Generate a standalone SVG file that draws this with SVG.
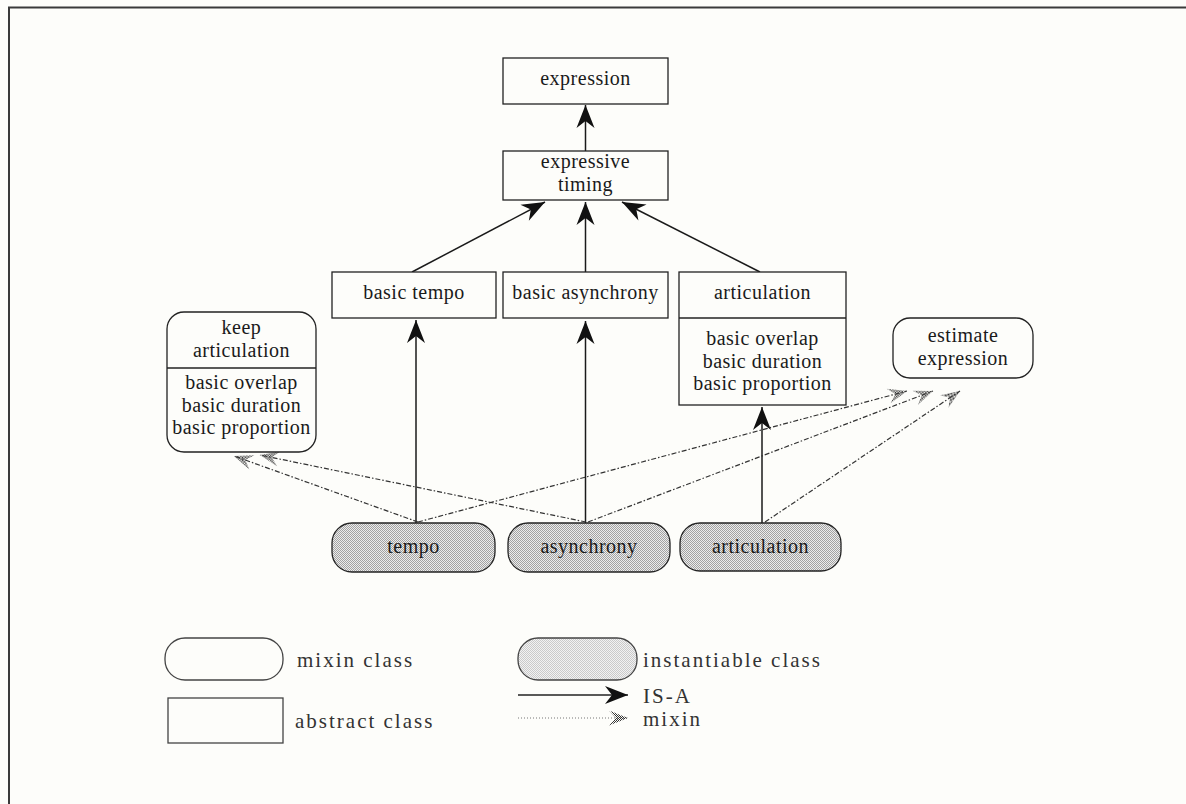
<svg xmlns="http://www.w3.org/2000/svg" width="1186" height="804" viewBox="0 0 1186 804">
  <defs>
    <style>
      .box { fill: #fdfdfa; stroke: #222; stroke-width: 1.3; }
      .lbl { font-family: "Liberation Serif", "Times New Roman", serif; font-size: 20px; letter-spacing: 0.5px; fill: #1a1a1a; text-anchor: middle; }
      .leg { font-family: "Liberation Serif", "Times New Roman", serif; font-size: 21px; fill: #333; letter-spacing: 2px; }
      .isa { fill: none; stroke: #1a1a1a; stroke-width: 1.5; marker-end: url(#isaHead); }
      .mix { fill: none; stroke: #333; stroke-width: 1.2; stroke-dasharray: 5 2 1.5 2; marker-end: url(#mixHead); }
      .inst { fill: url(#stipple); stroke: #222; stroke-width: 1.3; }
    </style>
    <!-- halftone fill for instantiable classes -->
    <pattern id="stipple" width="2" height="2" patternUnits="userSpaceOnUse">
      <rect width="2" height="2" fill="#ececec"/>
      <rect width="1" height="1" fill="#a2a2a2"/>
      <rect x="1" y="1" width="1" height="1" fill="#a2a2a2"/>
    </pattern>
    <pattern id="stippleLight" width="2" height="2" patternUnits="userSpaceOnUse">
      <rect width="2" height="2" fill="#f2f2f2"/>
      <rect width="1" height="1" fill="#cacaca"/>
      <rect x="1" y="1" width="1" height="1" fill="#cacaca"/>
    </pattern>
    <pattern id="dotsDark" width="2" height="2" patternUnits="userSpaceOnUse">
      <rect width="1" height="1" fill="#333"/>
      <rect x="1" y="1" width="1" height="1" fill="#333"/>
    </pattern>
    <!-- IS-A: solid barbed head -->
    <marker id="isaHead" viewBox="-25 -11 27 22" refX="0" refY="0" markerWidth="27" markerHeight="22" markerUnits="userSpaceOnUse" orient="auto">
      <path d="M0,0 L-23,-9 L-16,0 L-23,9 Z" fill="#111"/>
    </marker>
    <!-- mixin: stippled barbed head -->
    <marker id="mixHead" viewBox="-21 -9 23 18" refX="0" refY="0" markerWidth="23" markerHeight="18" markerUnits="userSpaceOnUse" orient="auto">
      <path d="M0,0 L-19,-7.5 L-12,0 L-19,7.5 Z" fill="url(#dotsDark)"/>
    </marker>
  </defs>

  <rect width="1186" height="804" fill="#fdfdfa"/>
  <!-- frame -->
  <path d="M9,804 V7.5 H1186" fill="none" stroke="#3a3a3a" stroke-width="2"/>

  <!-- connectors -->
  <g id="connectors">
    <line class="isa" x1="585.5" y1="151" x2="585.5" y2="105"/>
    <line class="isa" x1="412" y1="272" x2="545" y2="202"/>
    <line class="isa" x1="585.5" y1="272" x2="585.5" y2="202"/>
    <line class="isa" x1="760" y1="272" x2="622" y2="202"/>
    <line class="isa" x1="416" y1="523" x2="416" y2="320"/>
    <line class="isa" x1="585.5" y1="523" x2="585.5" y2="321"/>
    <line class="isa" x1="762" y1="523" x2="762" y2="407"/>

    <line class="mix" x1="418" y1="522" x2="234" y2="456"/>
    <line class="mix" x1="586" y1="522" x2="260" y2="455"/>
    <line class="mix" x1="418" y1="522" x2="907" y2="391"/>
    <line class="mix" x1="588" y1="522" x2="933" y2="391"/>
    <line class="mix" x1="765" y1="522" x2="960" y2="391"/>
  </g>

  <g id="expression">
    <rect class="box" x="503" y="58" width="165" height="46"/>
    <text class="lbl" x="585.5" y="85">expression</text>
  </g>

  <g id="expressive-timing">
    <rect class="box" x="503" y="151" width="165" height="49"/>
    <text class="lbl" x="585.5" y="168">expressive</text>
    <text class="lbl" x="585.5" y="191">timing</text>
  </g>

  <g id="basic-tempo">
    <rect class="box" x="332" y="272" width="164" height="46"/>
    <text class="lbl" x="414" y="299">basic tempo</text>
  </g>

  <g id="basic-asynchrony">
    <rect class="box" x="503" y="272" width="165" height="46"/>
    <text class="lbl" x="585.5" y="299">basic asynchrony</text>
  </g>

  <g id="articulation-abstract">
    <rect class="box" x="679" y="272" width="167" height="133"/>
    <line x1="679" y1="318" x2="846" y2="318" stroke="#222" stroke-width="1.3"/>
    <text class="lbl" x="762.5" y="299">articulation</text>
    <text class="lbl" x="762.5" y="345">basic overlap</text>
    <text class="lbl" x="762.5" y="367.5">basic duration</text>
    <text class="lbl" x="762.5" y="390">basic proportion</text>
  </g>

  <g id="keep-articulation">
    <rect class="box" x="167" y="312" width="149" height="140" rx="17"/>
    <line x1="167" y1="368" x2="316" y2="368" stroke="#222" stroke-width="1.3"/>
    <text class="lbl" x="241.5" y="334">keep</text>
    <text class="lbl" x="241.5" y="357">articulation</text>
    <text class="lbl" x="241.5" y="389">basic overlap</text>
    <text class="lbl" x="241.5" y="411.5">basic duration</text>
    <text class="lbl" x="241.5" y="434">basic proportion</text>
  </g>

  <g id="estimate-expression">
    <rect class="box" x="893" y="318" width="140" height="60" rx="17"/>
    <text class="lbl" x="963" y="342">estimate</text>
    <text class="lbl" x="963" y="364.5">expression</text>
  </g>

  <g id="tempo">
    <rect class="inst" x="332" y="523" width="163" height="49" rx="20"/>
    <text class="lbl" x="413.5" y="553">tempo</text>
  </g>

  <g id="asynchrony">
    <rect class="inst" x="508" y="523" width="162" height="49" rx="20"/>
    <text class="lbl" x="589" y="553">asynchrony</text>
  </g>

  <g id="articulation">
    <rect class="inst" x="680" y="523" width="161" height="48" rx="20"/>
    <text class="lbl" x="760.5" y="553">articulation</text>
  </g>

  <!-- legend -->
  <g id="legend">
    <rect x="165" y="638" width="118" height="42" rx="20" fill="none" stroke="#444" stroke-width="1.3"/>
    <text class="leg" x="297" y="667">mixin class</text>
    <rect x="168" y="698" width="115" height="45" fill="none" stroke="#444" stroke-width="1.3"/>
    <text class="leg" x="295" y="728">abstract class</text>
    <rect x="518" y="638" width="119" height="42" rx="20" fill="url(#stippleLight)" stroke="#444" stroke-width="1.3"/>
    <text class="leg" x="643" y="667">instantiable class</text>
    <line x1="518" y1="695" x2="628" y2="695" stroke="#222" stroke-width="1.4" marker-end="url(#isaHead)"/>
    <text class="leg" x="643" y="703">IS-A</text>
    <line x1="518" y1="718" x2="628" y2="718" stroke="#777" stroke-width="1" stroke-dasharray="1 2" marker-end="url(#mixHead)"/>
    <text class="leg" x="643" y="726">mixin</text>
  </g>
</svg>
